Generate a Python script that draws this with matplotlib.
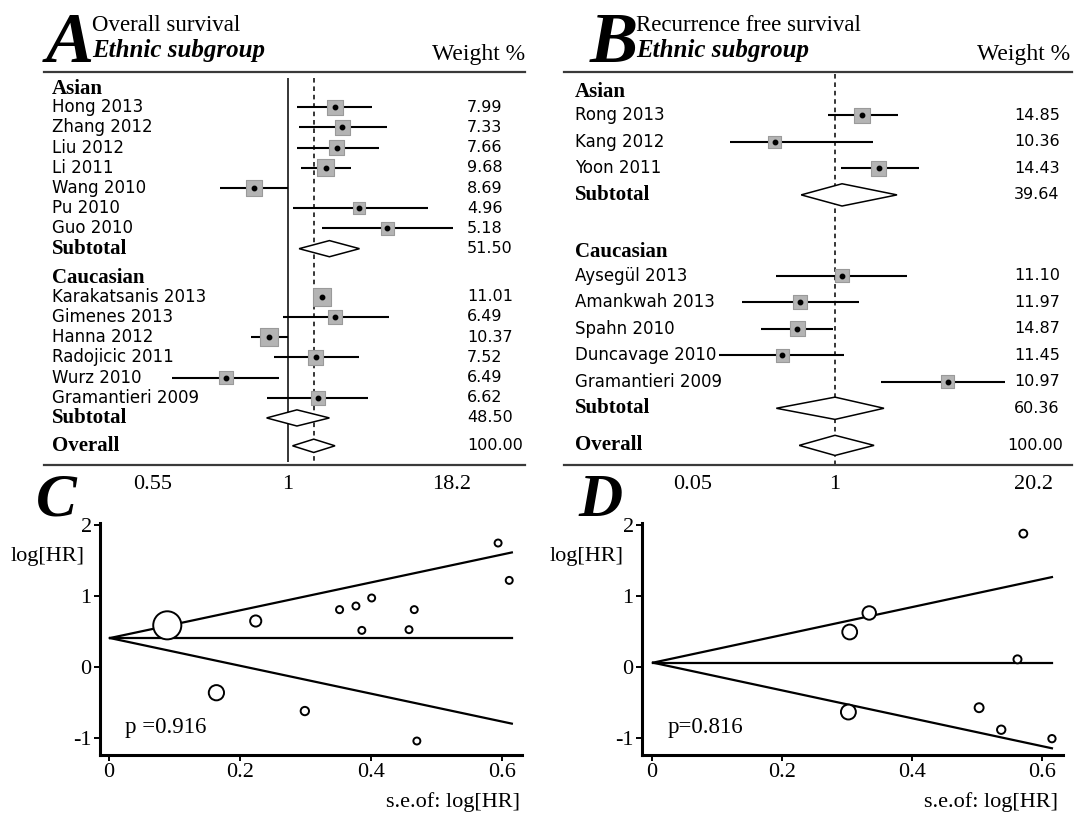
import numpy as np
import matplotlib
matplotlib.use("Agg")
import matplotlib.pyplot as plt
from matplotlib.patches import Polygon
from matplotlib.transforms import blended_transform_factory

SERIF = "Liberation Serif"
SANS = "DejaVu Sans"

# ---------------- Panel A: overall survival (HR, 95% CI, weight %) ----------------
os_asian_names = ["Hong 2013", "Zhang 2012", "Liu 2012", "Li 2011", "Wang 2010", "Pu 2010", "Guo 2010"]
os_asian_hr = [1.23, 1.27, 1.24, 1.18, 0.86, 1.37, 1.55]
os_asian_lo = [1.04, 1.05, 1.04, 1.06, 0.74, 1.02, 1.16]
os_asian_hi = [1.45, 1.55, 1.49, 1.32, 1.00, 1.85, 2.07]
os_asian_w = ["7.99", "7.33", "7.66", "9.68", "8.69", "4.96", "5.18"]
os_asian_sub = [1.20, 1.05, 1.37]
os_asian_sub_w = "51.50"

os_cauc_names = ["Karakatsanis 2013", "Gimenes 2013", "Hanna 2012", "Radojicic 2011", "Wurz 2010", "Gramantieri 2009"]
os_cauc_hr = [1.16, 1.23, 0.92, 1.13, 0.76, 1.14]
os_cauc_lo = [1.12, 0.98, 0.85, 0.94, 0.60, 0.91]
os_cauc_hi = [1.21, 1.56, 1.00, 1.37, 0.96, 1.42]
os_cauc_w = ["11.01", "6.49", "10.37", "7.52", "6.49", "6.62"]
os_cauc_sub = [1.04, 0.91, 1.20]
os_cauc_sub_w = "48.50"

os_overall = [1.12, 1.02, 1.23]
os_ticklabels = ["0.55", "1", "18.2"]

# ---------------- Panel B: recurrence free survival ----------------
rfs_asian_names = ["Rong 2013", "Kang 2012", "Yoon 2011"]
rfs_asian_hr = [1.77, 0.28, 2.53]
rfs_asian_lo = [0.86, 0.11, 1.14]
rfs_asian_hi = [3.78, 2.23, 5.88]
rfs_asian_w = ["14.85", "10.36", "14.43"]
rfs_asian_sub = [1.16, 0.49, 3.70]
rfs_asian_sub_w = "39.64"

rfs_cauc_names = ["Aysegül 2013", "Amankwah 2013", "Spahn 2010", "Duncavage 2010", "Gramantieri 2009"]
rfs_cauc_hr = [1.16, 0.48, 0.45, 0.33, 10.8]
rfs_cauc_lo = [0.29, 0.14, 0.21, 0.087, 2.64]
rfs_cauc_hi = [4.57, 1.66, 0.96, 1.21, 36.1]
rfs_cauc_w = ["11.10", "11.97", "14.87", "11.45", "10.97"]
rfs_cauc_sub = [1.00, 0.29, 2.81]
rfs_cauc_sub_w = "60.36"

rfs_overall = [1.00, 0.47, 2.28]
rfs_ticklabels = ["0.05", "1", "20.2"]

# ---------------- Panels C / D: funnel plots ----------------
se_c = [0.089, 0.164, 0.224, 0.299, 0.352, 0.377, 0.386, 0.401, 0.458, 0.466, 0.470, 0.594, 0.611]
lhr_c = [0.587, -0.362, 0.648, -0.620, 0.808, 0.859, 0.516, 0.972, 0.526, 0.808, -1.042, 1.746, 1.220]
pooled_c = 0.408
p_c = "p =0.916"

se_d = [0.302, 0.304, 0.334, 0.503, 0.537, 0.562, 0.571, 0.615]
lhr_d = [-0.634, 0.493, 0.761, -0.573, -0.883, 0.108, 1.878, -1.009]
pooled_d = 0.061
p_d = "p=0.816"

W, H = 1076, 818
fig = plt.figure(figsize=(W / 100, H / 100), dpi=100)


def rect(x0, y0, x1, y1):
    return [x0 / W, 1 - y1 / H, (x1 - x0) / W, (y1 - y0) / H]


def ftext(x, y, s, **kw):
    fig.text(x / W, 1 - y / H, s, **kw)


def diamond(ax, est, lo, hi, y, h):
    pts = [(np.log(lo), y), (np.log(est), y - h), (np.log(hi), y), (np.log(est), y + h)]
    ax.add_patch(Polygon(pts, closed=True, facecolor="white", edgecolor="black", lw=1.1, zorder=3))


def forest(ax, groups, overall, cfg):
    tr = blended_transform_factory(ax.transAxes, ax.transData)
    y = 0.0
    for gi, g in enumerate(groups):
        if gi > 0:
            y += cfg["head_gap"]
        ax.text(cfg["lab_x"], y, g["title"], transform=tr, family=SERIF, fontsize=15,
                fontweight="bold", va="center", ha="left")
        y += cfg["first_gap"]
        rows = y + np.arange(len(g["names"]))
        hr = np.log(g["hr"])
        ax.hlines(rows, np.log(g["lo"]), np.log(g["hi"]), color="black", lw=1.5, zorder=2)
        sizes = (cfg["sq"] * np.sqrt(np.array(g["w"], float)) * 0.72) ** 2
        ax.scatter(hr, rows, s=sizes, marker="s", facecolor="#b4b4b4", edgecolor="#9a9a9a",
                   lw=0.8, zorder=3)
        ax.plot(hr, rows, "o", color="black", ms=3.2, zorder=4)
        for r, name, w in zip(rows, g["names"], g["w"]):
            ax.text(cfg["lab_x"], r, name, transform=tr, family=SANS, fontsize=12, va="center")
            ax.text(cfg["w_x"], r, w, transform=tr, family=SANS, fontsize=11.5, va="center")
        y = rows[-1] + 1
        diamond(ax, *g["sub"], y, cfg["dh"])
        ax.text(cfg["lab_x"], y, "Subtotal", transform=tr, family=SERIF, fontsize=15,
                fontweight="bold", va="center")
        ax.text(cfg["w_x"], y, g["sub_w"], transform=tr, family=SANS, fontsize=11.5, va="center")
    y += cfg["over_gap"]
    diamond(ax, *overall, y, cfg["dh_over"])
    ax.text(cfg["lab_x"], y, "Overall", transform=tr, family=SERIF, fontsize=15,
            fontweight="bold", va="center")
    ax.text(cfg["w_x"] + cfg["w_over_dx"], y, "100.00", transform=tr, family=SANS,
            fontsize=11.5, va="center")
    ax.set_xlim(*cfg["xlim"])
    ax.set_ylim(*cfg["ylim"])
    for side in ["left", "right"]:
        ax.spines[side].set_visible(False)
    for side in ["top", "bottom"]:
        ax.spines[side].set_linewidth(1.6)
        ax.spines[side].set_color("#3a3a3a")
    ax.set_yticks([])
    ax.set_xticks(cfg["ticks"])
    ax.set_xticklabels(cfg["ticklabels"], family=SERIF, fontsize=16)
    ax.tick_params(axis="x", length=0, pad=7)


# ---- Panel A
axA = fig.add_axes(rect(44, 72, 525, 465))
groupsA = [
    dict(title="Asian", names=os_asian_names, hr=os_asian_hr, lo=os_asian_lo, hi=os_asian_hi,
         w=os_asian_w, sub=os_asian_sub, sub_w=os_asian_sub_w),
    dict(title="Caucasian", names=os_cauc_names, hr=os_cauc_hr, lo=os_cauc_lo, hi=os_cauc_hi,
         w=os_cauc_w, sub=os_cauc_sub, sub_w=os_cauc_sub_w),
]
cfgA = dict(lab_x=0.017, w_x=0.879, w_over_dx=0.0, head_gap=1.45, first_gap=0.93, over_gap=1.38,
            dh=0.4, dh_over=0.33, sq=5.4, xlim=(-1.075, 1.044), ylim=(18.64, -0.817),
            ticks=[np.log(0.55), 0, 0.7225], ticklabels=os_ticklabels)
axA.vlines(0, -0.5, 18.5, color="black", lw=1.1, zorder=1)
axA.vlines(np.log(os_overall[0]), -0.5, 18.5, color="black", lw=1.1, linestyles=(0, (3, 2.5)), zorder=1)
forest(axA, groupsA, os_overall, cfgA)

# ---- Panel B
axB = fig.add_axes(rect(564, 72, 1072, 465))
groupsB = [
    dict(title="Asian", names=rfs_asian_names, hr=rfs_asian_hr, lo=rfs_asian_lo, hi=rfs_asian_hi,
         w=rfs_asian_w, sub=rfs_asian_sub, sub_w=rfs_asian_sub_w),
    dict(title="Caucasian", names=rfs_cauc_names, hr=rfs_cauc_hr, lo=rfs_cauc_lo, hi=rfs_cauc_hi,
         w=rfs_cauc_w, sub=rfs_cauc_sub, sub_w=rfs_cauc_sub_w),
]
cfgB = dict(lab_x=0.022, w_x=0.886, w_over_dx=-0.013, head_gap=2.15, first_gap=0.9, over_gap=1.4,
            dh=0.42, dh_over=0.38, sq=3.95, xlim=(-5.717, 5.0), ylim=(14.09, -0.736),
            ticks=[np.log(0.05), 0, 4.18], ticklabels=rfs_ticklabels)
axB.vlines(np.log(rfs_overall[0]), -0.65, 14.09, color="black", lw=1.1, linestyles=(0, (3, 2.5)), zorder=1)
forest(axB, groupsB, rfs_overall, cfgB)

# headers
for x0, xr, big, title in [(46, 525, "A", "Overall survival"), (590, 1070, "B", "Recurrence free survival")]:
    ftext(x0, 62, big, family=SERIF, fontsize=52, fontweight="bold", style="italic", va="baseline")
    ftext(x0 + 46, 31, title, family=SERIF, fontsize=16.5, va="baseline")
    ftext(x0 + 46, 57, "Ethnic subgroup", family=SERIF, fontsize=18, fontweight="bold",
          style="italic", va="baseline")
    ftext(xr, 60, "Weight %", family=SERIF, fontsize=17, ha="right", va="baseline")


# ---- funnel plots
def funnel(ax, se, lhr, pooled, k, dmin, ptext):
    se = np.array(se)
    diam = np.maximum(k / se, dmin)
    se_max = 0.615
    ax.plot([0.0015, se_max], [pooled, pooled], color="black", lw=1.6)
    ax.plot([0.0015, se_max], [pooled, pooled + 1.96 * se_max], color="black", lw=1.6)
    ax.plot([0.0015, se_max], [pooled, pooled - 1.96 * se_max], color="black", lw=1.6)
    ax.scatter(se, lhr, s=(diam * 0.72) ** 2, facecolor="white", edgecolor="black", lw=1.4, zorder=3)
    ax.text(0.024, -0.85, ptext, family=SERIF, fontsize=16.5, va="center")
    for side in ["top", "right"]:
        ax.spines[side].set_visible(False)
    for side in ["left", "bottom"]:
        ax.spines[side].set_linewidth(2.2)
    ax.set_ylim(-1.239, 2.028)
    ax.set_xticks([0, 0.2, 0.4, 0.6])
    ax.set_xticklabels(["0", "0.2", "0.4", "0.6"], family=SERIF, fontsize=16)
    ax.set_yticks([-1, 0, 1, 2])
    ax.set_yticklabels(["-1", "0", "1", "2"], family=SERIF, fontsize=16)
    ax.tick_params(length=4, width=1.4, pad=2)


axC = fig.add_axes(rect(100, 523, 522, 755))
axC.set_xlim(-0.0137, 0.6305)
funnel(axC, se_c, lhr_c, pooled_c, 2.5, 7, p_c)

axD = fig.add_axes(rect(642, 523, 1063, 755))
axD.set_xlim(-0.0154, 0.632)
funnel(axD, se_d, lhr_d, pooled_d, 4.5, 6, p_d)

for x0, xl, xr, big in [(36, 48, 520, "C"), (578, 587, 1058, "D")]:
    ftext(x0, 516, big, family=SERIF, fontsize=44, fontweight="bold", style="italic", va="baseline")
    ftext(xl, 557, "log[HR]", family=SERIF, fontsize=16, ha="center", va="center")
    ftext(xr, 802, "s.e.of: log[HR]", family=SERIF, fontsize=16, ha="right", va="center")

fig.savefig("out.png", dpi=100)
